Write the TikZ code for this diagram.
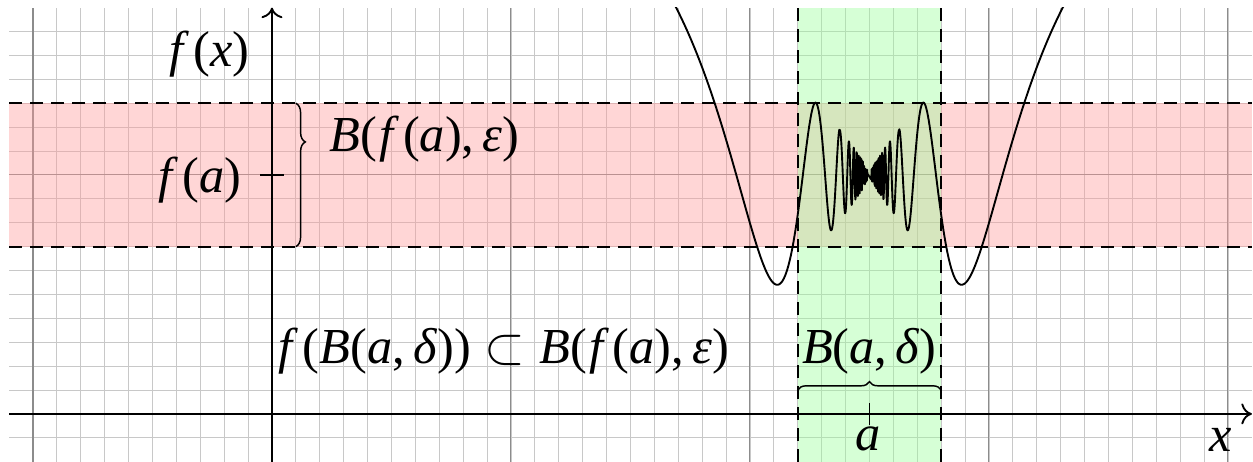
\documentclass[tikz,border=0pt]{standalone}
\usepackage{fontspec}
\setmainfont{Liberation Serif}
\usetikzlibrary{arrows.meta,decorations.pathreplacing}
\definecolor{gridminor}{HTML}{C8C8C8}
\definecolor{gridmajor}{HTML}{8C8C8C}
\definecolor{epsfill}{HTML}{FF9999}
\definecolor{deltafill}{HTML}{99FF99}
\newcommand{\mv}[1]{\textit{#1}}
\newcommand{\mf}{\kern0.04em\textit{f}\kern0.08em}

\begin{document}
\begin{tikzpicture}[
  x=4cm, y=4cm,
  font=\fontsize{24}{28}\selectfont,
  declare function={osc(\t)=1+abs(\t)^0.8*sin(deg(1.75/abs(\t)));},
  minorgrid/.style={draw=gridminor, line width=0.4pt},
  majorgrid/.style={draw=gridmajor, line width=0.5pt},
  epsband/.style={fill=epsfill, fill opacity=0.4},
  deltaband/.style={fill=deltafill, fill opacity=0.4},
  bandedge/.style={draw=black, line width=0.9pt, dash pattern=on 6pt off 4pt},
  axisline/.style={line width=0.9pt, -{To[length=5pt,width=10pt]}},
  axistick/.style={line width=0.8pt},
  fcurve/.style={line width=0.9pt, line join=round},
  bracebox/.style={decorate, line width=0.7pt},
  lbl/.style={inner sep=0pt}
]

\useasboundingbox (-1.138,-0.197) rectangle (4.105,1.732);

% Grid
\draw[minorgrid, step=0.1] (-1.1,-0.2) grid (4.1,1.7);
\draw[majorgrid, step=1] (-1.1,-0.2) grid (4.1,1.7);

% Balls around f(a) and a
\fill[epsband] (-1.1,0.7) rectangle (4.1,1.3);
\fill[deltaband] (2.2,-0.2) rectangle (2.8,1.7);

\draw[bandedge] (-1.1,0.7) -- (4.1,0.7);
\draw[bandedge] (-1.1,1.3) -- (4.1,1.3);
\draw[bandedge] (2.2,-0.2) -- (2.2,1.7);
\draw[bandedge] (2.8,-0.2) -- (2.8,1.7);

% Axes and ticks
\coordinate (xstart) at (-1.1,0);
\coordinate (xend) at (4.1,0);
\coordinate (ystart) at (0,-0.2);
\coordinate (yend) at (0,1.7);
\draw[axisline] (xstart) -- (xend);
\draw[axisline] (ystart) -- (yend);
\draw[axistick] (-0.05,1) -- (0.05,1);
\draw[axistick] (2.5,-0.045) -- (2.5,0.045);

% The function
\begin{scope}
  \clip (-1.1,-0.2) rectangle (4.1,1.7);
  \draw[fcurve] plot[domain=-0.85:-0.008, samples=900] ({2.5+\x},{osc(\x)})
    -- plot[domain=0.008:0.85, samples=900] ({2.5+\x},{osc(\x)});
\end{scope}

% Braces
\draw[bracebox, decoration={brace, amplitude=4.5pt, aspect=0.27}] (0.1,1.3) -- (0.1,0.7);
\draw[bracebox, decoration={brace, amplitude=4pt}] (2.2,0.1) -- (2.8,0.1);

% Labels
\node[lbl, anchor=base east] (fxlabel) at (-0.092,1.452) {\mf(\mv{x})};
\node[lbl, anchor=base east] (falabel) at (-0.126,0.925) {\mf(\mv{a})};
\node[lbl, anchor=base west] (epslabel) at (0.24,1.0975) {\mv{B}(\mf(\mv{a}),\,\mv{ε})};
\node[lbl, anchor=base] (inclabel) at (0.967,0.209) {\mf(\mv{B}(\mv{a},\,\mv{δ}))\;$\subset$\;\mv{B}(\mf(\mv{a}),\,\mv{ε})};
\node[lbl, anchor=base] (deltalabel) at (2.5,0.209) {\mv{B}(\mv{a},\,\mv{δ})};
\node[lbl, anchor=base] (alabel) at (2.495,-0.155) {\mv{a}};
\node[lbl, anchor=base] (xlabel) at (3.97,-0.157) {\mv{x}};

\end{tikzpicture}
\end{document}
